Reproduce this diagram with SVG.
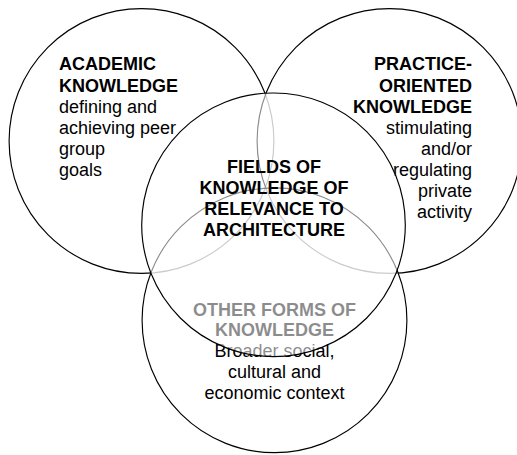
<svg xmlns="http://www.w3.org/2000/svg" width="517" height="455" viewBox="0 0 517 455">
<style>
.c{fill:#fff;fill-opacity:0.55;stroke:#000;stroke-width:1.15}
text{font-family:"Liberation Sans",Arial,sans-serif;font-size:18px;fill:#000}
.b{font-weight:bold}
</style>
<rect width="517" height="455" fill="#fff"/>
<g id="academic">
<circle class="c" cx="141.5" cy="141" r="132.4"/>
<text x="59" y="70" class="b">ACADEMIC</text>
<text x="59" y="91.5" class="b">KNOWLEDGE</text>
<text x="59" y="112.5">defining and</text>
<text x="59" y="133.5">achieving peer</text>
<text x="59" y="154.5">group</text>
<text x="59" y="175.5">goals</text>
</g>
<g id="practice">
<circle class="c" cx="389.5" cy="141" r="132.4"/>
<g text-anchor="end">
<text x="472" y="70" class="b">PRACTICE-</text>
<text x="472" y="91.5" class="b">ORIENTED</text>
<text x="472" y="112.5" class="b">KNOWLEDGE</text>
<text x="472" y="133.5">stimulating</text>
<text x="472" y="154.5">and/or</text>
<text x="472" y="175.5">regulating</text>
<text x="472" y="196.5">private</text>
<text x="472" y="217.5">activity</text>
</g>
</g>
<g id="other">
<circle class="c" cx="274.5" cy="320.3" r="132.4"/>
<g text-anchor="middle">
<text x="274.5" y="315.5" class="b">OTHER FORMS OF</text>
<text x="274.5" y="336" class="b">KNOWLEDGE</text>
<text x="274.5" y="357">Broader social,</text>
<text x="274.5" y="378">cultural and</text>
<text x="274.5" y="399">economic context</text>
</g>
</g>
<g id="fields">
<circle class="c" cx="273.5" cy="224.8" r="131.8"/>
<g text-anchor="middle" class="b">
<text x="274" y="173">FIELDS OF</text>
<text x="274" y="194">KNOWLEDGE OF</text>
<text x="274" y="215">RELEVANCE TO</text>
<text x="274" y="236">ARCHITECTURE</text>
</g>
</g>
<g id="connectors"/>
</svg>
